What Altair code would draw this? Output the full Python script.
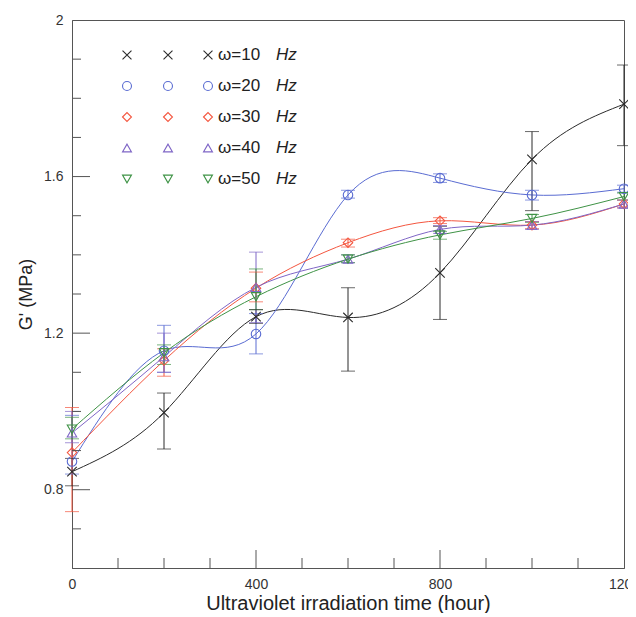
import altair as alt
import pandas as pd

# ---------------- data ----------------
hours = [0, 200, 400, 600, 800, 1000, 1200]
series_names = ["ω=10", "ω=20", "ω=30", "ω=40", "ω=50"]

g10 = [0.846, 0.997, 1.242, 1.240, 1.354, 1.644, 1.785]
g10_lo = [0.810, 0.904, 1.225, 1.103, 1.235, 1.513, 1.679]
g10_hi = [0.880, 1.047, 1.260, 1.316, 1.473, 1.715, 1.885]

g20 = [0.872, 1.155, 1.198, 1.553, 1.596, 1.553, 1.569]
g20_lo = [0.840, 1.100, 1.147, 1.545, 1.585, 1.540, 1.560]
g20_hi = [0.990, 1.220, 1.250, 1.565, 1.607, 1.565, 1.578]

g30 = [0.895, 1.130, 1.315, 1.431, 1.487, 1.476, 1.530]
g30_lo = [0.744, 1.090, 1.280, 1.420, 1.480, 1.467, 1.520]
g30_hi = [1.010, 1.160, 1.356, 1.440, 1.495, 1.485, 1.540]

g40 = [0.945, 1.140, 1.317, 1.389, 1.465, 1.476, 1.530]
g40_lo = [0.920, 1.100, 1.227, 1.380, 1.455, 1.465, 1.520]
g40_hi = [1.000, 1.200, 1.407, 1.400, 1.475, 1.485, 1.540]

g50 = [0.955, 1.150, 1.293, 1.389, 1.451, 1.493, 1.549]
g50_lo = [0.930, 1.120, 1.260, 1.380, 1.440, 1.483, 1.540]
g50_hi = [0.985, 1.170, 1.364, 1.400, 1.460, 1.503, 1.558]

x_major = [0, 400, 800, 1200]
x_minor = [100, 200, 300, 500, 600, 700, 900, 1000, 1100]
y_major = [0.8, 1.2, 1.6, 2.0]
y_minor = [0.7, 0.9, 1.0, 1.1, 1.3, 1.4, 1.5, 1.7, 1.8, 1.9]

# ---------------- styles ----------------
colors = ["#2b2b2b", "#5a6cd2", "#f4563f", "#7f66c6", "#3f9346"]
x_path = "M-1,-1L1,1M-1,1L1,-1"
shapes = [x_path, "circle", "diamond", "triangle-up", "triangle-down"]
FONT = "Liberation Sans"
W, H = 552, 548

rows = []
for name, v, lo, hi in zip(
    series_names,
    [g10, g20, g30, g40, g50],
    [g10_lo, g20_lo, g30_lo, g40_lo, g50_lo],
    [g10_hi, g20_hi, g30_hi, g40_hi, g50_hi],
):
    for h, a, b, c in zip(hours, v, lo, hi):
        rows.append({"series": name, "hour": h, "g": a, "lo": b, "hi": c})
df = pd.DataFrame(rows)

xs = alt.Scale(domain=[0, 1200], nice=False, zero=False)
ys = alt.Scale(domain=[0.6, 2.0], nice=False, zero=False)
cs = alt.Scale(domain=series_names, range=colors)
ss = alt.Scale(domain=series_names, range=shapes)

X = alt.X(
    "hour:Q", scale=xs,
    axis=alt.Axis(values=x_major, format="d", title="Ultraviolet irradiation time (hour)",
                  ticks=False, grid=False, labelPadding=9, titlePadding=2,
                  labelFontSize=14, titleFontSize=20, labelFlush=False),
)
Y = alt.Y(
    "g:Q", scale=ys,
    axis=alt.Axis(values=y_major, format=".1~f", title="G' (MPa)",
                  ticks=False, grid=False, labelPadding=9, titlePadding=8,
                  labelFontSize=14, titleFontSize=18, labelFlush=False),
)
C = alt.Color("series:N", scale=cs, legend=None)

base = alt.Chart(df)

lines = base.mark_line(interpolate="natural", strokeWidth=1).encode(
    x=X, y=Y, color=C, detail="series:N"
)
bars = base.mark_rule(strokeWidth=1).encode(
    x="hour:Q", y="lo:Q", y2="hi:Q", color=C
)
cap_lo = base.mark_tick(orient="horizontal", size=14, thickness=1).encode(
    x="hour:Q", y="lo:Q", color=C
)
cap_hi = base.mark_tick(orient="horizontal", size=14, thickness=1).encode(
    x="hour:Q", y="hi:Q", color=C
)
points = base.mark_point(filled=False, size=90, strokeWidth=1.1, opacity=1).encode(
    x="hour:Q", y="g:Q", color=C,
    shape=alt.Shape("series:N", scale=ss, legend=None),
)

# inward axis ticks
tick_color = "#555555"
xmin_df = pd.DataFrame({"hour": x_minor})
xmaj_df = pd.DataFrame({"hour": x_major[1:-1]})
ymin_df = pd.DataFrame({"g": y_minor})
ymaj_df = pd.DataFrame({"g": y_major[:-1]})
xt_min = alt.Chart(xmin_df).mark_rule(color=tick_color, strokeWidth=1).encode(
    x="hour:Q", y=alt.value(H), y2=alt.value(H - 10))
xt_maj = alt.Chart(xmaj_df).mark_rule(color=tick_color, strokeWidth=1).encode(
    x="hour:Q", y=alt.value(H), y2=alt.value(H - 18))
yt_min = alt.Chart(ymin_df).mark_rule(color=tick_color, strokeWidth=1).encode(
    y="g:Q", x=alt.value(0), x2=alt.value(9))
yt_maj = alt.Chart(ymaj_df).mark_rule(color=tick_color, strokeWidth=1).encode(
    y="g:Q", x=alt.value(0), x2=alt.value(18))

# custom legend (three symbols per row, Origin style)
leg_layers = []
for i, name in enumerate(series_names):
    ly = 35 + 31 * i
    ldf = pd.DataFrame({"series": [name]})
    for lx in [55, 96, 136]:
        leg_layers.append(
            alt.Chart(ldf).mark_point(filled=False, size=80, strokeWidth=1.1, opacity=1).encode(
                x=alt.value(lx), y=alt.value(ly), color=C,
                shape=alt.Shape("series:N", scale=ss, legend=None),
            )
        )
    leg_layers.append(
        alt.Chart(ldf).mark_text(align="left", baseline="middle", font=FONT,
                                 fontSize=17, color="#222222").encode(
            x=alt.value(146), y=alt.value(ly), text="series:N")
    )
    leg_layers.append(
        alt.Chart(ldf).mark_text(align="left", baseline="middle", font=FONT,
                                 fontSize=17, fontStyle="italic", color="#222222").encode(
            x=alt.value(204), y=alt.value(ly), text=alt.value("Hz"))
    )

chart = alt.layer(
    lines, bars, cap_lo, cap_hi, points, xt_min, xt_maj, yt_min, yt_maj, *leg_layers
).properties(
    width=W, height=H,
    autosize=alt.AutoSizeParams(type="none"),
    padding={"left": 64, "top": 12, "right": 4, "bottom": 45},
).configure_view(
    stroke="#555555", strokeWidth=1
).configure_axis(
    labelFont=FONT, titleFont=FONT, labelColor="#333333", titleColor="#222222",
    titleFontWeight="normal", domainColor="#555555", domainWidth=1,
)

chart.save("out.html", embed_options={"renderer": "svg", "actions": False})
